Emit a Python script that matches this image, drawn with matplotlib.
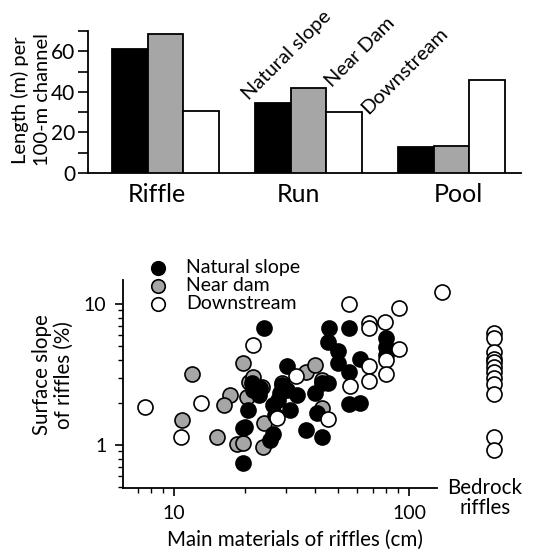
import matplotlib
matplotlib.use('Agg')
import matplotlib.pyplot as plt
from matplotlib.ticker import LogLocator, NullFormatter, FixedLocator

plt.rcParams['font.family'] = ['Lato', 'DejaVu Sans']

# ---- top panel: habitat length per 100 m of channel ----
habitats = ['Riffle', 'Run', 'Pool']
sites = ['Natural slope', 'Near Dam', 'Downstream']
natural_len = [61.0, 34.5, 12.8]
neardam_len = [68.5, 41.7, 13.4]
downstream_len = [30.8, 30.0, 45.9]

# ---- bottom panel: riffle material size (cm) vs surface slope (%) ----
natural_x = [24.2, 45.6, 55.5, 45.2, 49.9, 61.9, 49.9, 55.5, 55.5, 61.9,
             79.8, 79.8, 79.8, 42.7, 45.2, 39.8, 40.6, 36.5, 42.7, 30.3,
             28.3, 30.3, 33.4, 26.4, 31.2, 21.5, 23.2, 23.0, 20.6, 20.1,
             19.7, 26.4, 25.6, 19.7, 27.7, 28.8, 27.0, 21.7]
natural_y = [6.75, 6.75, 6.75, 5.38, 4.64, 4.07, 3.81, 3.29, 1.95, 1.99,
             5.74, 4.95, 4.35, 2.75, 2.75, 2.34, 1.69, 1.28, 1.14, 3.63,
             2.34, 2.45, 2.26, 1.92, 1.77, 2.75, 2.54, 2.26, 1.77, 1.35,
             1.32, 1.20, 1.09, 0.745, 2.09, 2.66, 1.63, 2.45]
neardam_x = [19.7, 11.9, 20.8, 21.7, 23.7, 17.3, 16.3, 10.8, 15.2, 24.2,
             23.9, 18.5, 19.7, 36.5, 39.8, 28.8, 42.7, 42.7, 20.5]
neardam_y = [3.81, 3.19, 2.80, 3.03, 2.58, 2.26, 1.92, 1.50, 1.14, 1.43,
             0.97, 1.02, 1.03, 3.29, 3.69, 2.75, 2.89, 1.83, 2.19]
downstream_x = [138, 55.5, 90.6, 67.5, 67.5, 79.1, 21.7, 90.6, 67.5, 79.8,
                79.8, 67.5, 56.0, 33.0, 45.2, 27.4, 13.0, 7.53, 10.7]
downstream_y = [12.2, 10.0, 9.4, 7.3, 6.75, 7.45, 5.12, 4.80, 3.63, 4.01,
                3.19, 2.84, 2.62, 3.09, 1.53, 1.55, 1.99, 1.86, 1.14]
bedrock_y = [6.2, 5.7, 4.6, 4.1, 3.9, 3.6, 3.3, 3.0, 2.7, 2.3, 1.14, 0.92]
bedrock_pos = 230

GRAY = '#a6a6a6'

fig = plt.figure(figsize=(5.33, 5.54), dpi=100)

# ---------------- top bar chart ----------------
ax1 = fig.add_axes([0.165, 0.6877, 0.8124, 0.2563])
w = 0.25
centers = [0, 1, 2]
for vals, color, off in zip([natural_len, neardam_len, downstream_len],
                            ['black', GRAY, 'white'], [-w, 0, w]):
    ax1.bar([c + off for c in centers], vals, width=w, color=color,
            edgecolor='black', linewidth=1.3, zorder=3)

ax1.set_xlim(-0.542, 2.486)
ax1.set_ylim(0, 70)
ax1.spines['top'].set_visible(False)
ax1.spines['right'].set_visible(False)
ax1.spines['left'].set_linewidth(1.3)
ax1.spines['bottom'].set_linewidth(1.3)
ax1.set_yticks([0, 20, 40, 60])
ax1.yaxis.set_minor_locator(FixedLocator([10, 30, 50, 70]))
ax1.tick_params(axis='y', which='both', direction='out', length=7, width=1.2,
                labelsize=15, pad=2)
ax1.set_xticks([-0.06, 0.927, 2.045])
ax1.set_xticklabels(habitats, fontsize=18)
ax1.tick_params(axis='x', length=0, pad=7)

for name, xpos, ypos in zip(sites, [0.60, 1.18, 1.43], [34.5, 41.0, 27.5]):
    ax1.text(xpos, ypos, name, rotation=45, rotation_mode='anchor',
             ha='left', va='bottom', fontsize=14.5)

fig.text(31 / 533, 1 - 100 / 554, 'Length (m) per\n100-m channel',
         rotation=90, ha='center', va='center', fontsize=14.5,
         multialignment='center', linespacing=1.3)

# ---------------- bottom scatter ----------------
ax2 = fig.add_axes([123 / 533, 1 - 488 / 554, (520 - 123) / 533, (488 - 280) / 554])
ax2.set_xscale('log')
ax2.set_yscale('log')

kw = dict(s=117, edgecolors='black', linewidths=1.2, zorder=3, clip_on=False)
ax2.scatter(neardam_x, neardam_y, c=GRAY, label='Near dam', **kw)
ax2.scatter(natural_x, natural_y, c='black', label='Natural slope', **kw)
ax2.scatter(downstream_x, downstream_y, c='white', label='Downstream', **kw)
ax2.scatter([bedrock_pos] * len(bedrock_y), bedrock_y, c='white', **kw)

ax2.set_xlim(6.07, 296.5)
ax2.set_ylim(0.495, 14.8)
ax2.spines['top'].set_visible(False)
ax2.spines['right'].set_visible(False)
ax2.spines['bottom'].set_bounds(6.07, 131.5)
ax2.spines['left'].set_linewidth(1.3)
ax2.spines['bottom'].set_linewidth(1.3)

ax2.xaxis.set_major_locator(FixedLocator([10, 100]))
ax2.xaxis.set_minor_locator(FixedLocator([6, 7, 8, 9, 20, 30, 40, 50, 60, 70, 80, 90]))
ax2.xaxis.set_minor_formatter(NullFormatter())
ax2.set_xticklabels(['10', '100'])
ax2.yaxis.set_major_locator(FixedLocator([1, 10]))
ax2.yaxis.set_minor_locator(LogLocator(base=10, subs=range(2, 10)))
ax2.yaxis.set_minor_formatter(NullFormatter())
ax2.set_yticklabels(['1', '10'])
ax2.tick_params(which='major', direction='out', length=6, width=1.2, labelsize=14)
ax2.tick_params(which='minor', direction='out', length=3.5, width=1.0)
ax2.tick_params(axis='y', pad=6)
ax2.tick_params(axis='x', pad=6)

handles, labels = ax2.get_legend_handles_labels()
order = [1, 0, 2]
ax2.legend([handles[i] for i in order], [labels[i] for i in order],
           loc='upper left', bbox_to_anchor=(131 / 533, 1 - 249 / 554),
           bbox_transform=fig.transFigure, frameon=False, fontsize=14,
           borderpad=0, handletextpad=0.55, labelspacing=0.05,
           handlelength=1.8, markerscale=0.9)

fig.text(295 / 533, 1 - 540 / 554, 'Main materials of riffles (cm)',
         ha='center', va='center', fontsize=14.8)
fig.text(53 / 533, 1 - 375 / 554, 'Surface slope\nof riffles (%)',
         rotation=90, ha='center', va='center', fontsize=14.8,
         multialignment='center', linespacing=1.15)
fig.text(485 / 533, 1 - 498 / 554, 'Bedrock\nriffles', ha='center',
         va='center', fontsize=14.8, multialignment='center', linespacing=1.05)

fig.savefig('out.png', dpi=100)
